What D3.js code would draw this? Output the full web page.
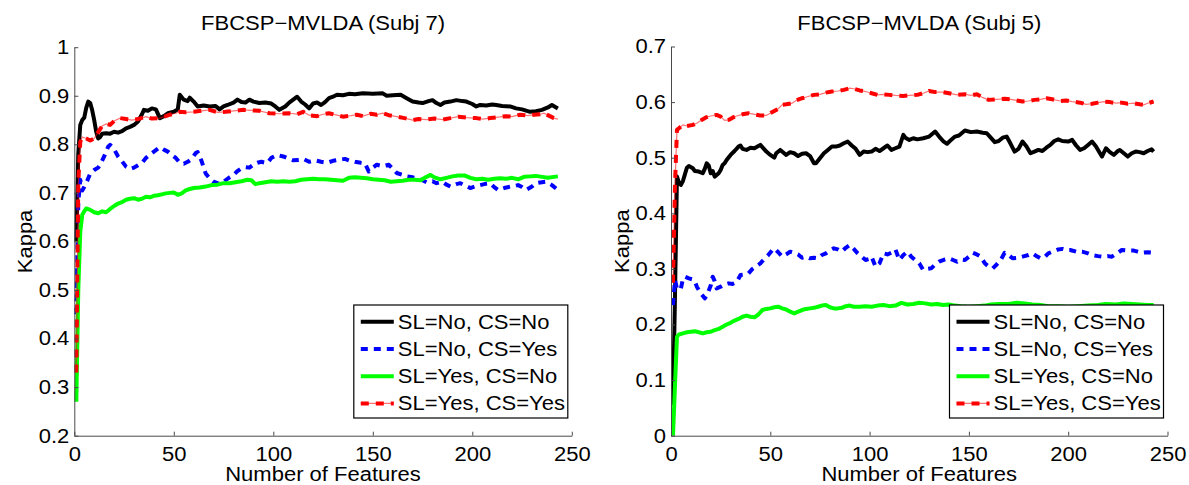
<!DOCTYPE html>
<html>
<head>
<meta charset="utf-8">
<script src="https://cdn.jsdelivr.net/npm/d3@7"></script>
<style>
  html, body { margin: 0; padding: 0; background: #fff; }
  svg { display: block; }
  text { font-family: "Liberation Sans", Arial, Helvetica, sans-serif; fill: #000; }
</style>
</head>
<body>
<svg id="chart" width="1189" height="485"></svg>
<script>
// ---- data ----
const seriesNames = ["SL=No, CS=No", "SL=No, CS=Yes", "SL=Yes, CS=No", "SL=Yes, CS=Yes"];
const panelTitles = ["FBCSP\u2212MVLDA (Subj 7)", "FBCSP\u2212MVLDA (Subj 5)"];
const xLabel = "Number of Features";
const yLabel = "Kappa";
const xTicks = [0, 50, 100, 150, 200, 250];
const xTickLabels = ["0", "50", "100", "150", "200", "250"];
const yTicksSubj7 = [0.2, 0.3, 0.4, 0.5, 0.6, 0.7, 0.8, 0.9, 1.0];
const yTickLabelsSubj7 = ["0.2", "0.3", "0.4", "0.5", "0.6", "0.7", "0.8", "0.9", "1"];
const yTicksSubj5 = [0, 0.1, 0.2, 0.3, 0.4, 0.5, 0.6, 0.7];
const yTickLabelsSubj5 = ["0", "0.1", "0.2", "0.3", "0.4", "0.5", "0.6", "0.7"];

// [number of features, kappa]
const subj7NoNo = [[1,0.6],[2,0.78],[3,0.84],[4,0.85],[5,0.855],[6,0.875],[7,0.888],[8,0.885],[9,0.87],[10,0.85],[11,0.826],[12,0.812],[13,0.815],[14,0.822],[16,0.823],[18,0.822],[20,0.826],[22,0.824],[24,0.827],[26,0.833],[28,0.836],[30,0.84],[32,0.847],[34,0.862],[35,0.871],[37,0.869],[39,0.874],[41,0.872],[43,0.854],[45,0.858],[47,0.864],[50,0.867],[52,0.872],[53,0.902],[55,0.892],[57,0.889],[58,0.896],[60,0.888],[62,0.878],[65,0.88],[68,0.878],[71,0.879],[73,0.872],[75,0.878],[77,0.881],[80,0.886],[82,0.892],[84,0.887],[86,0.886],[88,0.892],[90,0.888],[93,0.885],[96,0.886],[99,0.884],[101,0.878],[103,0.871],[106,0.878],[108,0.886],[110,0.892],[112,0.898],[114,0.888],[116,0.882],[118,0.874],[120,0.884],[122,0.886],[124,0.881],[126,0.887],[128,0.895],[130,0.898],[132,0.902],[135,0.901],[138,0.904],[141,0.903],[145,0.905],[150,0.904],[155,0.905],[157,0.9],[160,0.901],[164,0.902],[167,0.895],[170,0.888],[173,0.886],[175,0.885],[178,0.889],[180,0.891],[182,0.885],[184,0.881],[186,0.886],[189,0.888],[192,0.891],[195,0.889],[197,0.888],[200,0.883],[202,0.878],[204,0.881],[207,0.88],[210,0.882],[212,0.881],[215,0.879],[219,0.878],[222,0.874],[225,0.872],[229,0.867],[232,0.868],[235,0.871],[238,0.876],[240,0.881],[243,0.874]];
const subj7NoYes = [[1,0.45],[2,0.68],[3,0.727],[4,0.705],[5,0.712],[6,0.72],[8,0.74],[10,0.747],[12,0.752],[13,0.758],[15,0.775],[17,0.795],[18,0.799],[20,0.79],[22,0.775],[24,0.765],[26,0.754],[28,0.749],[30,0.752],[32,0.757],[34,0.762],[36,0.772],[39,0.782],[41,0.788],[43,0.794],[45,0.789],[47,0.785],[49,0.778],[51,0.772],[53,0.762],[55,0.76],[57,0.764],[59,0.77],[61,0.782],[62,0.784],[63,0.775],[64,0.765],[66,0.74],[68,0.73],[70,0.723],[72,0.72],[74,0.719],[76,0.726],[78,0.732],[80,0.737],[82,0.745],[84,0.751],[86,0.753],[88,0.752],[90,0.758],[92,0.762],[94,0.764],[97,0.761],[99,0.772],[102,0.778],[105,0.775],[108,0.77],[110,0.767],[113,0.768],[115,0.77],[118,0.764],[121,0.767],[124,0.764],[127,0.762],[130,0.766],[133,0.768],[136,0.77],[138,0.767],[141,0.764],[144,0.762],[146,0.761],[148,0.744],[150,0.752],[152,0.758],[155,0.755],[158,0.758],[160,0.75],[162,0.741],[165,0.737],[167,0.734],[170,0.732],[172,0.73],[175,0.726],[177,0.722],[180,0.724],[182,0.72],[185,0.723],[187,0.717],[189,0.713],[192,0.718],[194,0.72],[197,0.714],[199,0.71],[202,0.714],[204,0.716],[207,0.719],[209,0.72],[211,0.712],[213,0.706],[216,0.71],[219,0.713],[221,0.714],[223,0.716],[225,0.712],[227,0.706],[230,0.713],[232,0.72],[235,0.722],[237,0.723],[240,0.716],[243,0.706]];
const subj7YesNo = [[1,0.27],[2,0.5],[3,0.62],[4,0.655],[5,0.662],[6,0.668],[8,0.665],[10,0.66],[12,0.658],[14,0.662],[16,0.66],[18,0.667],[20,0.673],[22,0.678],[24,0.681],[26,0.686],[28,0.688],[30,0.689],[32,0.686],[34,0.688],[36,0.692],[38,0.691],[40,0.694],[42,0.695],[44,0.697],[46,0.699],[48,0.7],[50,0.701],[52,0.696],[54,0.699],[56,0.705],[58,0.708],[60,0.71],[63,0.711],[66,0.713],[69,0.716],[72,0.717],[75,0.72],[78,0.72],[81,0.722],[84,0.724],[87,0.727],[89,0.726],[91,0.718],[93,0.72],[96,0.722],[99,0.724],[102,0.723],[105,0.724],[108,0.723],[111,0.724],[114,0.727],[117,0.728],[120,0.729],[123,0.728],[126,0.728],[129,0.727],[132,0.726],[135,0.725],[138,0.731],[141,0.732],[144,0.731],[147,0.73],[150,0.728],[153,0.727],[156,0.726],[159,0.723],[162,0.724],[165,0.725],[168,0.727],[171,0.727],[174,0.726],[177,0.733],[179,0.737],[181,0.732],[184,0.728],[187,0.731],[190,0.734],[193,0.736],[196,0.736],[199,0.731],[202,0.728],[205,0.729],[208,0.727],[211,0.729],[214,0.73],[217,0.729],[220,0.731],[223,0.728],[226,0.733],[229,0.734],[232,0.735],[235,0.733],[238,0.731],[241,0.733],[243,0.734]];
const subj7YesYes = [[1,0.33],[2,0.72],[3,0.805],[4,0.815],[6,0.812],[8,0.808],[10,0.812],[12,0.825],[14,0.838],[16,0.842],[18,0.84],[20,0.848],[23,0.854],[26,0.852],[29,0.85],[32,0.852],[36,0.857],[39,0.853],[43,0.854],[46,0.858],[48,0.861],[51,0.864],[53,0.867],[56,0.866],[60,0.867],[64,0.869],[68,0.871],[72,0.866],[76,0.867],[80,0.869],[85,0.871],[89,0.87],[93,0.869],[98,0.864],[103,0.863],[108,0.864],[112,0.862],[115,0.867],[118,0.86],[122,0.858],[125,0.862],[128,0.864],[132,0.86],[135,0.857],[139,0.859],[142,0.861],[145,0.858],[149,0.863],[152,0.861],[155,0.864],[158,0.86],[162,0.857],[166,0.854],[170,0.85],[173,0.852],[177,0.851],[181,0.853],[185,0.851],[189,0.854],[193,0.857],[197,0.855],[202,0.854],[205,0.852],[209,0.854],[213,0.856],[217,0.858],[220,0.857],[224,0.861],[228,0.859],[231,0.861],[234,0.862],[236,0.864],[239,0.858],[241,0.854],[243,0.852]];

const subj5NoNo = [[1,0.055],[2,0.25],[3,0.466],[4,0.455],[5,0.451],[6,0.458],[7,0.47],[8,0.482],[9,0.485],[11,0.481],[12,0.476],[14,0.475],[16,0.472],[17,0.48],[18,0.49],[19,0.486],[20,0.472],[21,0.476],[22,0.466],[24,0.472],[25,0.478],[26,0.487],[27,0.49],[28,0.496],[30,0.505],[32,0.512],[34,0.52],[35,0.522],[36,0.516],[38,0.514],[40,0.518],[42,0.517],[44,0.521],[45,0.523],[47,0.515],[48,0.511],[50,0.505],[52,0.5],[53,0.508],[55,0.514],[57,0.508],[58,0.505],[60,0.51],[62,0.508],[64,0.503],[66,0.507],[68,0.508],[70,0.503],[72,0.49],[73,0.49],[75,0.499],[77,0.508],[79,0.514],[81,0.52],[83,0.52],[85,0.522],[87,0.526],[89,0.529],[91,0.522],[93,0.516],[95,0.505],[97,0.511],[99,0.51],[101,0.511],[103,0.516],[105,0.512],[107,0.517],[109,0.522],[111,0.514],[113,0.517],[115,0.52],[117,0.541],[118,0.536],[120,0.532],[122,0.535],[124,0.533],[127,0.535],[130,0.538],[133,0.547],[135,0.538],[137,0.53],[139,0.525],[141,0.532],[143,0.538],[145,0.54],[148,0.549],[151,0.546],[154,0.547],[157,0.545],[159,0.544],[161,0.536],[163,0.528],[165,0.53],[167,0.536],[169,0.538],[171,0.525],[173,0.511],[175,0.516],[177,0.529],[179,0.52],[181,0.508],[183,0.511],[185,0.514],[187,0.512],[189,0.518],[191,0.523],[193,0.53],[195,0.533],[197,0.53],[200,0.529],[202,0.532],[204,0.522],[206,0.514],[208,0.517],[210,0.523],[212,0.529],[214,0.52],[216,0.508],[217,0.502],[219,0.517],[221,0.51],[223,0.505],[225,0.512],[226,0.514],[228,0.508],[230,0.502],[232,0.508],[234,0.511],[236,0.51],[238,0.508],[240,0.512],[242,0.515],[243,0.511]];
const subj5NoYes = [[1,0.235],[2,0.28],[3,0.265],[4,0.262],[5,0.265],[6,0.282],[7,0.286],[9,0.283],[11,0.281],[12,0.278],[13,0.268],[15,0.256],[17,0.247],[18,0.252],[20,0.27],[21,0.286],[22,0.278],[23,0.265],[25,0.268],[27,0.272],[29,0.274],[31,0.273],[33,0.276],[35,0.289],[37,0.29],[39,0.292],[41,0.3],[43,0.305],[45,0.31],[47,0.318],[49,0.325],[51,0.334],[52,0.337],[54,0.33],[56,0.322],[58,0.326],[60,0.331],[62,0.329],[64,0.326],[66,0.32],[68,0.322],[70,0.319],[72,0.32],[74,0.319],[76,0.325],[78,0.328],[80,0.333],[82,0.337],[84,0.335],[86,0.331],[88,0.338],[90,0.343],[92,0.336],[94,0.328],[96,0.322],[98,0.316],[100,0.318],[101,0.322],[103,0.304],[105,0.31],[107,0.328],[109,0.326],[112,0.331],[113,0.335],[115,0.316],[117,0.325],[119,0.331],[121,0.322],[123,0.316],[125,0.31],[127,0.298],[129,0.3],[131,0.301],[133,0.308],[135,0.313],[138,0.317],[140,0.319],[142,0.316],[144,0.313],[146,0.317],[148,0.316],[150,0.322],[152,0.329],[154,0.326],[156,0.322],[158,0.31],[160,0.304],[162,0.301],[164,0.308],[166,0.316],[168,0.329],[170,0.325],[172,0.319],[175,0.32],[177,0.322],[180,0.325],[182,0.328],[184,0.323],[186,0.319],[188,0.321],[190,0.328],[192,0.331],[195,0.335],[197,0.336],[199,0.334],[201,0.334],[204,0.331],[207,0.331],[210,0.328],[212,0.325],[215,0.323],[217,0.322],[220,0.323],[222,0.322],[225,0.329],[227,0.334],[230,0.333],[233,0.333],[235,0.331],[237,0.329],[240,0.33],[243,0.329]];
const subj5YesNo = [[1,0.0],[2,0.09],[3,0.178],[4,0.182],[6,0.184],[8,0.186],[10,0.187],[12,0.188],[14,0.186],[16,0.184],[18,0.186],[20,0.187],[22,0.19],[24,0.192],[26,0.196],[28,0.2],[30,0.203],[32,0.207],[34,0.21],[36,0.214],[38,0.216],[40,0.214],[42,0.213],[44,0.218],[46,0.226],[48,0.228],[50,0.229],[52,0.231],[54,0.232],[56,0.229],[58,0.227],[60,0.223],[62,0.22],[64,0.223],[66,0.226],[68,0.228],[70,0.229],[72,0.23],[74,0.232],[76,0.234],[78,0.235],[80,0.231],[82,0.229],[84,0.229],[86,0.23],[88,0.233],[90,0.234],[92,0.232],[95,0.232],[98,0.233],[101,0.232],[104,0.234],[107,0.235],[110,0.233],[113,0.234],[116,0.239],[119,0.236],[122,0.237],[125,0.239],[128,0.238],[131,0.236],[134,0.237],[137,0.235],[140,0.236],[143,0.234],[146,0.233],[150,0.232],[154,0.233],[158,0.234],[161,0.236],[165,0.237],[170,0.237],[174,0.239],[178,0.238],[182,0.236],[186,0.235],[190,0.233],[195,0.233],[200,0.232],[205,0.233],[210,0.234],[215,0.235],[219,0.237],[224,0.236],[228,0.238],[232,0.237],[236,0.236],[240,0.235],[243,0.235]];
const subj5YesYes = [[1,0.275],[2,0.45],[3,0.55],[4,0.553],[6,0.559],[8,0.557],[11,0.559],[13,0.562],[15,0.567],[18,0.573],[20,0.575],[23,0.577],[25,0.574],[27,0.567],[29,0.568],[31,0.572],[33,0.575],[36,0.578],[39,0.58],[42,0.578],[45,0.576],[48,0.576],[50,0.58],[52,0.584],[54,0.588],[56,0.595],[58,0.596],[61,0.598],[63,0.603],[66,0.607],[69,0.61],[72,0.613],[75,0.614],[78,0.617],[81,0.619],[84,0.62],[87,0.622],[90,0.625],[92,0.624],[95,0.621],[98,0.619],[101,0.616],[104,0.613],[107,0.614],[110,0.613],[113,0.612],[117,0.611],[120,0.612],[124,0.613],[127,0.616],[130,0.62],[133,0.618],[137,0.618],[140,0.616],[144,0.613],[148,0.614],[151,0.612],[154,0.614],[157,0.608],[160,0.604],[164,0.605],[168,0.606],[171,0.605],[174,0.603],[177,0.601],[180,0.602],[183,0.604],[186,0.605],[189,0.607],[192,0.605],[196,0.602],[199,0.603],[202,0.601],[206,0.599],[209,0.596],[212,0.597],[215,0.599],[218,0.601],[221,0.6],[224,0.598],[227,0.599],[230,0.597],[233,0.598],[236,0.596],[238,0.595],[240,0.598],[243,0.601]];

// ---- styles (one per series, in plotting order) ----
const seriesStyles = [
  { color: "#000000", dash: null },
  { color: "#0000ff", dash: "7,6" },
  { color: "#00ff00", dash: null },
  { color: "#ff0000", dash: "8,7", dashDot: true }
];

const panels = [
  { title: panelTitles[0], series: [subj7NoNo, subj7NoYes, subj7YesNo, subj7YesYes],
    yDomain: [0.2, 1.0], yTicks: yTicksSubj7, yTickLabels: yTickLabelsSubj7,
    left: 74.3, right: 571.8, top: 47.2, bottom: 435.7 },
  { title: panelTitles[1], series: [subj5NoNo, subj5NoYes, subj5YesNo, subj5YesYes],
    yDomain: [0, 0.7], yTicks: yTicksSubj5, yTickLabels: yTickLabelsSubj5,
    left: 671.0, right: 1167.5, top: 46.5, bottom: 435.7 }
];

const svg = d3.select("#chart");
const FONT = 20;
const AXIS_COLOR = "#4a4a4a";

panels.forEach(p => {
  const x = d3.scaleLinear().domain([0, 250]).range([p.left, p.right]);
  const y = d3.scaleLinear().domain(p.yDomain).range([p.bottom, p.top]);
  const g = svg.append("g");

  // series lines
  const line = d3.line().x(d => x(d[0])).y(d => y(d[1]));
  p.series.forEach((data, i) => {
    const st = seriesStyles[i];
    if (st.dashDot) {
      g.append("path").attr("d", line(data)).attr("fill", "none")
        .attr("stroke", st.color).attr("stroke-opacity", 0.55).attr("stroke-width", 1.2);
    }
    g.append("path").attr("d", line(data)).attr("fill", "none")
      .attr("stroke", st.color).attr("stroke-width", 4)
      .attr("stroke-linejoin", "round")
      .attr("stroke-dasharray", st.dash);
  });

  // axes
  const xAxis = d3.axisBottom(x).tickValues(xTicks)
    .tickFormat((d, i) => xTickLabels[i]).tickSizeInner(-4).tickSizeOuter(0).tickPadding(11);
  const yAxis = d3.axisLeft(y).tickValues(p.yTicks)
    .tickFormat((d, i) => p.yTickLabels[i]).tickSizeInner(-4).tickSizeOuter(0).tickPadding(5);

  const gx = g.append("g").attr("transform", `translate(0,${p.bottom})`).call(xAxis);
  const gy = g.append("g").attr("transform", `translate(${p.left},0)`).call(yAxis);
  [gx, gy].forEach(a => {
    a.select(".domain").attr("stroke", AXIS_COLOR).attr("stroke-width", 1);
    a.selectAll(".tick line").attr("stroke", AXIS_COLOR).attr("stroke-width", 1);
    a.selectAll(".tick text").attr("font-size", FONT).attr("fill", "#000")
      .attr("font-family", '"Liberation Sans", Arial, sans-serif');
  });

  // titles and labels
  const cx = (p.left + p.right) / 2;
  g.append("text").attr("x", cx).attr("y", 30).attr("text-anchor", "middle")
    .attr("font-size", FONT).text(p.title);
  g.append("text").attr("x", cx).attr("y", 481).attr("text-anchor", "middle")
    .attr("font-size", FONT).text(xLabel);
  g.append("text")
    .attr("transform", `translate(${p.left - 42},${(p.top + p.bottom) / 2}) rotate(-90)`)
    .attr("text-anchor", "middle").attr("font-size", FONT).text(yLabel);

  // legend
  const lx = p.right - 218, ly = 305, lw = 214, lh = 113;
  const lg = g.append("g");
  lg.append("rect").attr("x", lx).attr("y", ly).attr("width", lw).attr("height", lh)
    .attr("fill", "#fff").attr("stroke", "#000").attr("stroke-width", 1.2);
  seriesNames.forEach((name, i) => {
    const st = seriesStyles[i];
    const ry = ly + 16.8 + i * 27.2;
    if (st.dashDot) {
      lg.append("line").attr("x1", lx + 7).attr("x2", lx + 40).attr("y1", ry).attr("y2", ry)
        .attr("stroke", st.color).attr("stroke-opacity", 0.55).attr("stroke-width", 1.2);
    }
    lg.append("line").attr("x1", lx + 7).attr("x2", lx + 40).attr("y1", ry).attr("y2", ry)
      .attr("stroke", st.color).attr("stroke-width", 4)
      .attr("stroke-dasharray", st.dash);
    lg.append("text").attr("x", lx + 44).attr("y", ry + 7).attr("font-size", FONT).text(name);
  });
});

// widen glyphs slightly along the text direction
svg.selectAll("text").each(function () {
  const L = this.getComputedTextLength();
  d3.select(this).attr("textLength", L * 1.1).attr("lengthAdjust", "spacingAndGlyphs");
});
</script>
</body>
</html>
